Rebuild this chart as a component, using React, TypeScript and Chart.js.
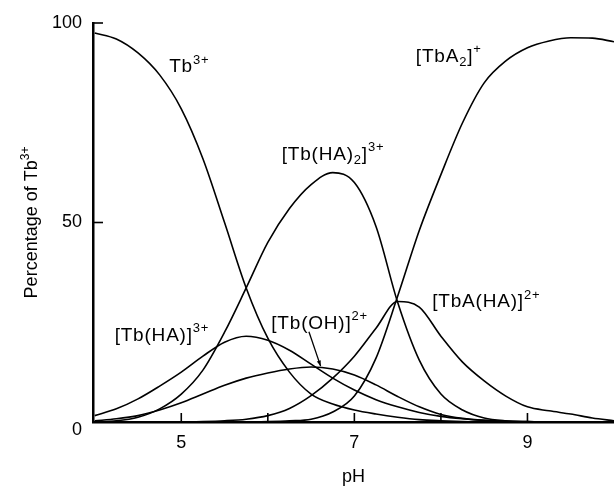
import React, { useEffect, useRef } from "react";
import { Chart, registerables } from "chart.js";

Chart.register(...registerables);

// pH grid
const PH = [4.0, 4.25, 4.5, 4.75, 5.0, 5.25, 5.5, 5.75, 6.0, 6.25, 6.5, 6.75, 7.0, 7.25, 7.5, 7.75, 8.0, 8.25, 8.5, 8.75, 9.0, 9.25, 9.5, 9.75, 10.0];

// Percentage of Tb3+ for each species
const TB = [97.5, 96, 92.5, 87, 78.5, 66, 50, 33.6, 21, 12.5, 7, 4.5, 3, 2, 1.2, 0.6, 0.3, 0.1, 0, 0, 0, 0, 0, 0, 0];
const TB_HA = [1.6, 3.3, 5.8, 9, 12.5, 16.5, 20, 21.5, 20.5, 18, 14.5, 11, 8, 5.6, 3.8, 2.4, 1.4, 0.8, 0.4, 0.2, 0.1, 0, 0, 0, 0];
const TB_HA2 = [0, 0.3, 1.2, 3.3, 7, 13, 22.5, 33.6, 45, 53.5, 59.5, 62.5, 60, 49, 30, 15.5, 7, 3, 1, 0.3, 0.1, 0, 0, 0, 0];
const TB_OH = [0.3, 0.8, 1.6, 3.0, 4.8, 7, 9.2, 11, 12.3, 13.3, 13.8, 13.3, 11.8, 9.3, 6.4, 3.8, 1.9, 0.9, 0.4, 0.15, 0.05, 0, 0, 0, 0];
const TBA_HA = [0, 0, 0, 0, 0, 0.1, 0.3, 0.7, 1.6, 3.4, 6.6, 11, 16.5, 23.5, 30.2, 28.8, 21.5, 15, 10.3, 6.5, 3.8, 2.8, 2.0, 1.0, 0.3];
const TBA2 = [0, 0, 0, 0, 0, 0, 0, 0, 0.1, 0.3, 0.7, 2.5, 6.5, 16, 31.5, 48, 62, 75, 85, 90.5, 93.8, 95.5, 96.3, 96.2, 95.3];

const SERIES = [TB, TB_HA, TB_HA2, TB_OH, TBA_HA, TBA2];

// axes
const X_MIN = 3.98;
const X_MAX = 10;
const X_TICKS = [5, 6, 7, 8, 9];
const X_TICK_LABELS = ["5", "", "7", "", "9"];
const Y_TICKS = [0, 50, 100];
const Y_TICK_LABELS = ["0", "50", "100"];
const X_TITLE = "pH";

type Part = { t: string; k?: "sup" | "sub" };
const Y_TITLE: Part[] = [{ t: "Percentage of Tb" }, { t: "3+", k: "sup" }];

// curve labels, anchored at (pH, %) = left / baseline
const LABELS: { x: number; y: number; parts: Part[] }[] = [
  { x: 4.86, y: 87.7, parts: [{ t: "Tb" }, { t: "3+", k: "sup" }] },
  { x: 7.71, y: 90.3, parts: [{ t: "[TbA" }, { t: "2", k: "sub" }, { t: "]" }, { t: "+", k: "sup" }] },
  { x: 6.16, y: 65.7, parts: [{ t: "[Tb(HA)" }, { t: "2", k: "sub" }, { t: "]" }, { t: "3+", k: "sup" }] },
  { x: 4.23, y: 20.3, parts: [{ t: "[Tb(HA)]" }, { t: "3+", k: "sup" }] },
  { x: 6.04, y: 23.3, parts: [{ t: "[Tb(OH)]" }, { t: "2+", k: "sup" }] },
  { x: 7.9, y: 28.8, parts: [{ t: "[TbA(HA)]" }, { t: "2+", k: "sup" }] },
];
const ARROW = { from: [6.475, 22.6], to: [6.61, 14.0] };

const FONT = '"Liberation Sans", Arial, Helvetica, sans-serif';
const AXIS_SIZE = 18;
const MAIN = 19;
const SMALL = 13;

function drawRich(
  ctx: CanvasRenderingContext2D,
  x: number,
  y: number,
  parts: Part[],
  main: number,
  small: number,
  spacing: number,
  measureOnly = false
): number {
  let cx = x;
  (ctx as any).letterSpacing = `${spacing}px`;
  for (const p of parts) {
    const size = p.k ? small : main;
    ctx.font = `${size}px ${FONT}`;
    const dy = p.k === "sup" ? -main * 0.45 : p.k === "sub" ? main * 0.22 : 0;
    if (!measureOnly) ctx.fillText(p.t, cx, y + dy);
    cx += ctx.measureText(p.t).width;
  }
  (ctx as any).letterSpacing = "0px";
  return cx - x;
}

const overlay = {
  id: "overlay",
  afterDraw(chart: any) {
    const { ctx, chartArea: a, scales } = chart;
    const xs = scales.x;
    const ys = scales.y;
    ctx.save();
    ctx.strokeStyle = "#000";
    ctx.fillStyle = "#000";
    ctx.lineWidth = 1.6;
    ctx.textBaseline = "middle";

    // x ticks (inward) and labels
    X_TICKS.forEach((v, i) => {
      const px = xs.getPixelForValue(v);
      ctx.beginPath();
      ctx.moveTo(px, a.bottom);
      ctx.lineTo(px, a.bottom - 9);
      ctx.stroke();
      if (X_TICK_LABELS[i]) {
        ctx.textAlign = "center";
        ctx.font = `${AXIS_SIZE}px ${FONT}`;
        ctx.fillText(X_TICK_LABELS[i], px, a.bottom + 21);
      }
    });
    // y ticks
    Y_TICKS.forEach((v, i) => {
      const py = ys.getPixelForValue(v);
      if (v > 0) {
        ctx.beginPath();
        ctx.moveTo(a.left, py);
        ctx.lineTo(a.left + 10, py);
        ctx.stroke();
      }
      ctx.textAlign = "right";
      ctx.font = `${AXIS_SIZE}px ${FONT}`;
      ctx.fillText(Y_TICK_LABELS[i], a.left - 11, py + (v === 0 ? 8 : 0));
    });

    // axis titles
    ctx.textAlign = "center";
    ctx.font = `${AXIS_SIZE}px ${FONT}`;
    ctx.fillText(X_TITLE, (a.left + a.right) / 2, a.bottom + 55);

    ctx.textAlign = "left";
    ctx.textBaseline = "alphabetic";
    ctx.save();
    ctx.translate(37, (a.top + a.bottom) / 2);
    ctx.rotate(-Math.PI / 2);
    const w = drawRich(ctx, 0, 0, Y_TITLE, AXIS_SIZE, 12, 0, true);
    drawRich(ctx, -w / 2, 0, Y_TITLE, AXIS_SIZE, 12, 0);
    ctx.restore();

    // curve labels
    for (const l of LABELS) {
      drawRich(ctx, xs.getPixelForValue(l.x), ys.getPixelForValue(l.y), l.parts, MAIN, SMALL, 0.8);
    }

    // arrow
    const x1 = xs.getPixelForValue(ARROW.from[0]);
    const y1 = ys.getPixelForValue(ARROW.from[1]);
    const x2 = xs.getPixelForValue(ARROW.to[0]);
    const y2 = ys.getPixelForValue(ARROW.to[1]);
    ctx.lineWidth = 1.3;
    ctx.beginPath();
    ctx.moveTo(x1, y1);
    ctx.lineTo(x2, y2);
    ctx.stroke();
    const ang = Math.atan2(y2 - y1, x2 - x1);
    ctx.beginPath();
    ctx.moveTo(x2, y2);
    ctx.lineTo(x2 - 6 * Math.cos(ang - 0.35), y2 - 6 * Math.sin(ang - 0.35));
    ctx.lineTo(x2 - 6 * Math.cos(ang + 0.35), y2 - 6 * Math.sin(ang + 0.35));
    ctx.closePath();
    ctx.fill();

    ctx.restore();
  },
};

export default function App() {
  const ref = useRef<HTMLCanvasElement>(null);
  useEffect(() => {
    if (!ref.current) return;
    const chart = new Chart(ref.current, {
      type: "line",
      data: {
        datasets: SERIES.map((s) => ({
          data: PH.map((x, i) => ({ x, y: s[i] })),
          borderColor: "#000",
          borderWidth: 1.6,
          pointRadius: 0,
          fill: false,
          cubicInterpolationMode: "monotone" as const,
        })),
      },
      options: {
        responsive: false,
        animation: false,
        events: [],
        layout: { padding: { left: 0, right: 0, top: 23, bottom: 0 } },
        plugins: { legend: { display: false }, tooltip: { enabled: false } },
        scales: {
          x: {
            type: "linear",
            min: X_MIN,
            max: X_MAX,
            ticks: { display: false },
            grid: { display: false, drawTicks: false },
            border: { display: true, color: "#000", width: 2.5 },
            afterFit(scale: any) {
              scale.height = 65;
            },
          },
          y: {
            type: "linear",
            min: 0,
            max: 100,
            ticks: { display: false },
            grid: { display: false, drawTicks: false },
            border: { display: true, color: "#000", width: 2.5 },
            afterFit(scale: any) {
              scale.width = 93;
            },
          },
        },
      },
      plugins: [overlay],
    });
    return () => chart.destroy();
  }, []);
  return (
    <div style={{ position: "absolute", left: 0, top: 0, width: 614, height: 487, background: "#fff" }}>
      <canvas ref={ref} width={614} height={487} style={{ display: "block" }} />
    </div>
  );
}
